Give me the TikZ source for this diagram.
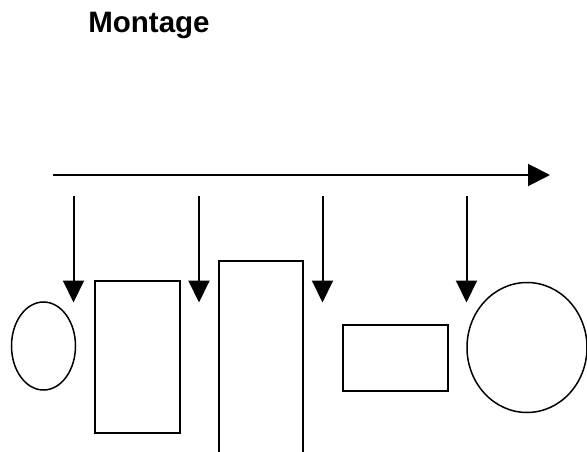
\documentclass[tikz,border=0pt]{standalone}
\usepackage{fontspec}
\setmainfont{Liberation Sans}
\usetikzlibrary{arrows.meta,shapes.geometric}
\begin{document}
\begin{tikzpicture}[x=1pt,y=-1pt,
  shape outline/.style={draw=black,line width=1.5pt,inner sep=0pt,outer sep=0pt},
  flow/.style={draw=black,line width=2pt,-{Triangle[length=22pt,width=22pt]}},
  feed/.style={draw=black,line width=2pt,-{Triangle[length=22pt,width=21pt]}}]
  \useasboundingbox (0,0) rectangle (587,452);
  \clip (0,0) rectangle (587,452);

  % heading
  \node[font=\bfseries\fontsize{29.5}{34}\selectfont,inner sep=0pt,anchor=base] (title) at (149,33) {Montage};

  % main direction of assembly
  \coordinate (flowstart) at (53,175);
  \coordinate (flowend) at (550,175);
  \draw[flow] (flowstart) -- (flowend);

  % parts being assembled
  \node[shape outline,ellipse,minimum width=64pt,minimum height=88pt] (oval) at (43.5,346) {};
  \node[shape outline,rectangle,minimum width=85pt,minimum height=152pt] (boxA) at (137.5,357) {};
  \node[shape outline,rectangle,minimum width=84pt,minimum height=220pt] (boxB) at (261,371) {};
  \node[shape outline,rectangle,minimum width=105pt,minimum height=66pt] (boxC) at (395.5,358) {};
  \node[shape outline,ellipse,minimum width=120pt,minimum height=130pt] (disc) at (527,347.5) {};

  % feed points along the line
  \foreach \name/\xx in {a/73.5,b/199,c/322.5,d/466.5}{
    \coordinate (top\name) at (\xx,196);
    \coordinate (tip\name) at (\xx,302.5);
    \draw[feed] (top\name) -- (tip\name);
  }
\end{tikzpicture}
\end{document}
